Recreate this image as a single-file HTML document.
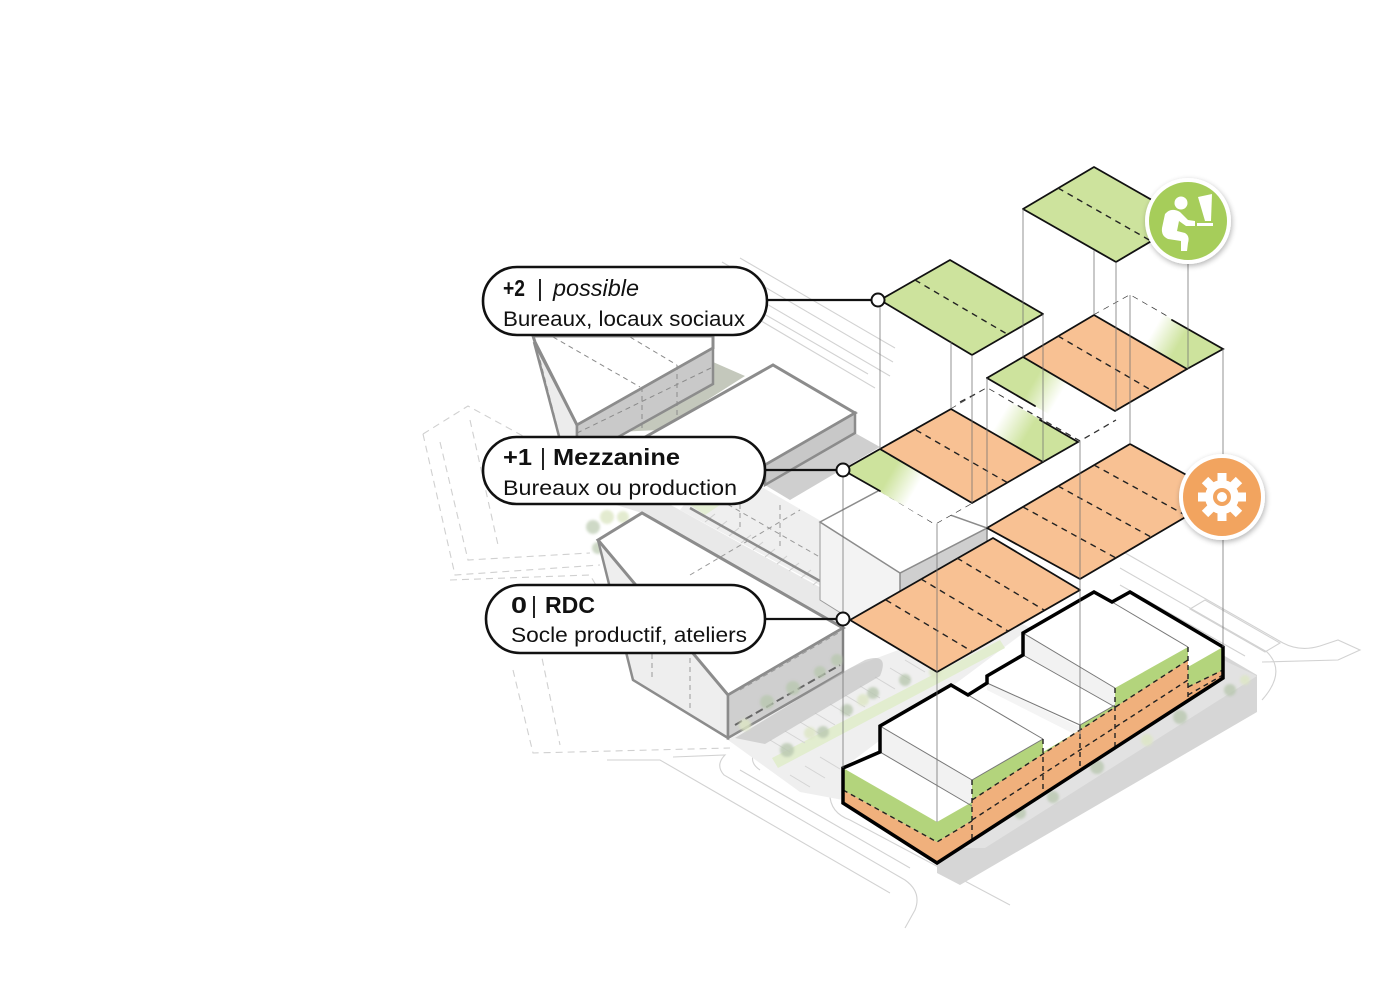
<!DOCTYPE html>
<html><head><meta charset="utf-8">
<style>
html,body{margin:0;padding:0;background:#fff;}
svg{display:block;}
text{font-family:"Liberation Sans",Arial,sans-serif;fill:#111;}
</style></head>
<body>
<svg width="1400" height="987" viewBox="0 0 1400 987" xmlns="http://www.w3.org/2000/svg">
<defs>
<linearGradient id="g1" gradientUnits="userSpaceOnUse" x1="862" y1="460" x2="953" y2="513"><stop offset="0" stop-color="#cde39d" stop-opacity="1"/><stop offset="0.3" stop-color="#cde39d" stop-opacity="1"/><stop offset="0.58" stop-color="#cde39d" stop-opacity="0"/></linearGradient>
<linearGradient id="g2" gradientUnits="userSpaceOnUse" x1="1060" y1="452" x2="969" y2="398"><stop offset="0" stop-color="#cde39d" stop-opacity="1"/><stop offset="0.35" stop-color="#cde39d" stop-opacity="1"/><stop offset="0.65" stop-color="#cde39d" stop-opacity="0"/></linearGradient>
<linearGradient id="g3" gradientUnits="userSpaceOnUse" x1="1005" y1="367" x2="1097" y2="421"><stop offset="0" stop-color="#cde39d" stop-opacity="1"/><stop offset="0.3" stop-color="#cde39d" stop-opacity="1"/><stop offset="0.58" stop-color="#cde39d" stop-opacity="0"/></linearGradient>
<linearGradient id="g4" gradientUnits="userSpaceOnUse" x1="1205" y1="359" x2="1112" y2="305"><stop offset="0" stop-color="#cde39d" stop-opacity="1"/><stop offset="0.28" stop-color="#cde39d" stop-opacity="1"/><stop offset="0.55" stop-color="#cde39d" stop-opacity="0"/></linearGradient>
<filter id="sh" x="-30%" y="-30%" width="160%" height="160%"><feGaussianBlur in="SourceAlpha" stdDeviation="3"/><feOffset dx="1" dy="2"/><feComponentTransfer><feFuncA type="linear" slope="0.3"/></feComponentTransfer><feMerge><feMergeNode/><feMergeNode in="SourceGraphic"/></feMerge></filter>
<filter id="bl" x="-20%" y="-20%" width="140%" height="140%"><feGaussianBlur stdDeviation="1.2"/></filter>
</defs>

<!-- ground lines -->
<g fill="none" stroke="#d2d2d2" stroke-width="1.1">
<path d="M705 268 L890 376"/><path d="M722 262 L893 362"/><path d="M740 258 L895 348"/><path d="M712 292 L875 388"/><path d="M740 300 L868 374"/>
<path d="M1120 550 L1283 643 Q1300 652 1320 646 L1338 640 L1360 650 L1338 660 L1262 662"/>
<path d="M1120 568 L1267 652 Q1287 672 1262 700"/>
<path d="M1120 585 L1245 656"/>
<path d="M1205 600 L1280 643 L1265 652 L1190 609 Z"/>
<path d="M607 760 L660 760 L890 893"/>
<path d="M673 757 L725 755 Q715 765 724 775 L905 880 Q922 892 915 910 L905 928"/>
<path d="M740 770 L910 868"/>
<path d="M760 745 Q745 760 760 770"/>
<path d="M830 790 Q828 812 850 820 L1010 905"/>
<path d="M880 770 L960 816"/>
</g>
<g fill="none" stroke="#d0d0d0" stroke-width="1.1" stroke-dasharray="7 5">
<path d="M423 434 L468 406 L545 448"/>
<path d="M423 434 L455 575 L600 565"/>
<path d="M440 442 L468 560 L590 553"/>
<path d="M470 420 L498 545"/>
<path d="M450 580 L590 575 L640 660"/>
<path d="M513 670 L533 753 L730 748"/>
<path d="M530 600 L560 745"/>
</g>

<!-- site ground -->
<polygon points="728,740 850,668 1000,612 1030,628 843,768 843,800 800,792" fill="#efefef"/>
<polygon points="772,758 1000,640 1005,648 778,768" fill="#e2edcf"/>
<g stroke="#d4d4d4" stroke-width="1">
<path d="M770 740 L790 752"/><path d="M785 731 L805 743"/><path d="M800 722 L820 734"/><path d="M815 713 L835 725"/><path d="M830 704 L850 716"/><path d="M845 695 L865 707"/><path d="M860 686 L880 698"/><path d="M875 677 L895 689"/><path d="M890 668 L910 680"/><path d="M905 660 L925 672"/><path d="M920 652 L940 664"/>
<path d="M790 775 L810 787"/><path d="M805 766 L825 778"/><path d="M820 757 L840 769"/>
</g>
<polygon points="1223,655 1257,675 1257,712 960,885 937,873 937,863 1223,678" fill="#d6d6d6"/>
<polygon points="1223,660 1257,676 985,848 950,848" fill="#e2e2e2"/>

<!-- L1 -->
<polygon points="713,362 745,376 660,430 615,432" fill="#c4c8bc"/>
<polygon points="534,342 577,425 577,440 560,440" fill="#ececec" stroke="#8c8c8c" stroke-width="2.5"/>
<polygon points="533,336 713,336 713,348 577,425 535,342" fill="#fff" stroke="#8c8c8c" stroke-width="3"/>
<polygon points="577,425 713,348 713,384 577,460" fill="#c9c9c9" stroke="#8c8c8c" stroke-width="2.5"/>
<g stroke="#8a8a8a" stroke-width="1" stroke-dasharray="5 4" fill="none">
<path d="M553 337 L640 387"/><path d="M630 337 L677 365"/>
<path d="M577 433 L713 367"/><path d="M642 387 V432"/><path d="M677 365 V417"/>
<path d="M540 360 L558 430"/>
</g>

<!-- L2 + strip -->
<polygon points="600,500 640,488 843,600 843,640 642,513" fill="#e9e9e9"/>
<polygon points="690,497 760,486 880,555 880,600 843,598 680,510" fill="#efefef"/>
<g stroke="#9a9a9a" stroke-width="1" stroke-dasharray="5 4" fill="none"><path d="M720 500 L860 580"/><path d="M740 495 L740 530"/><path d="M780 505 L780 550"/><path d="M820 530 L820 575"/></g>
<polygon points="678,497 700,490 720,505 705,515" fill="#e4eed4"/>
<g stroke="#cfcfcf" stroke-width="1">
<path d="M705 522 L715 514"/><path d="M717 529 L727 521"/><path d="M729 536 L739 528"/><path d="M741 543 L751 535"/><path d="M753 550 L763 542"/><path d="M765 557 L775 549"/><path d="M777 564 L787 556"/><path d="M789 571 L799 563"/><path d="M801 578 L811 570"/><path d="M813 585 L823 577"/><path d="M825 592 L835 584"/>
</g>
<path d="M642 513 L843 628" stroke="#8c8c8c" stroke-width="3" fill="none"/>
<path d="M690 508 L843 594" stroke="#8c8c8c" stroke-width="2.5" fill="none"/>
<polygon points="855,433 880,447 790,500 765,485" fill="#cfcfcf"/>
<polygon points="640,440 773,365 855,413 765,465 700,500" fill="#fff" stroke="#8c8c8c" stroke-width="3"/>
<polygon points="855,413 855,433 765,485 765,465" fill="#c8c8c8" stroke="#8c8c8c" stroke-width="2.5"/>

<!-- trees left -->
<g fill="#c6d3bd" opacity="0.85" filter="url(#bl)">
<circle cx="593" cy="527" r="7"/><circle cx="607" cy="517" r="7" fill="#dfe8c8"/><circle cx="623" cy="517" r="6" fill="#dfe8c8"/><circle cx="598" cy="548" r="6"/>
</g>

<!-- L3 -->
<polygon points="598,540 728,695 728,738 633,680 600,548" fill="#eeeeee" stroke="#8c8c8c" stroke-width="2.5"/>
<polygon points="598,540 642,513 843,628 728,695" fill="#fff" stroke="#8c8c8c" stroke-width="3"/>
<polygon points="728,695 843,628 843,672 728,738" fill="#cfcfcf" stroke="#8c8c8c" stroke-width="2.5"/>
<path d="M735 738 L843 672 L865 660 Q890 652 880 676 L765 744 Z" fill="#bdbdbd" opacity="0.6"/>
<g stroke="#9a9a9a" stroke-width="1" stroke-dasharray="5 4" fill="none"><path d="M635 590 L720 640"/><path d="M652 600 L652 680"/><path d="M690 622 L690 710"/><path d="M740 690 L840 632"/><path d="M690 575 L800 510"/></g>
<path d="M735 725 L840 665" stroke="#666" stroke-width="2" stroke-dasharray="8 4"/>
<g fill="#b9c8b0" opacity="0.8" filter="url(#bl)">
<circle cx="745" cy="725" r="6" fill="#dde6c4"/><circle cx="767" cy="702" r="7"/><circle cx="793" cy="688" r="7"/><circle cx="820" cy="672" r="6"/><circle cx="837" cy="660" r="6"/>
<circle cx="787" cy="750" r="7"/><circle cx="810" cy="733" r="6" fill="#dde6c4"/><circle cx="823" cy="732" r="6"/><circle cx="847" cy="710" r="6"/><circle cx="863" cy="700" r="6" fill="#dde6c4"/><circle cx="873" cy="693" r="6"/><circle cx="905" cy="680" r="6"/><circle cx="935" cy="672" r="6" fill="#dde6c4"/>
<circle cx="1180" cy="717" r="7"/><circle cx="1147" cy="740" r="6" fill="#dde6c4"/><circle cx="1097" cy="767" r="7"/><circle cx="1053" cy="797" r="6"/><circle cx="1020" cy="813" r="6"/><circle cx="1230" cy="690" r="6"/><circle cx="1245" cy="680" r="5" fill="#dde6c4"/>
</g>

<!-- M box -->
<polygon points="820,522 900,573 900,650 820,600" fill="#f3f3f3" stroke="#9a9a9a" stroke-width="1"/>
<polygon points="900,573 987,528 987,545 900,592" fill="#cfcfcf" stroke="#8c8c8c" stroke-width="1.5"/>
<polygon points="820,522 880,490 987,528 900,573" fill="#fff" stroke="#8c8c8c" stroke-width="1.5"/>

<!-- bold building -->
<polygon points="843,768 880,752 880,726 951,685 968,695 987,683 987,676 1023,655 1023,633 1094,592 1112,602 1130,592 1223,647 1223,678 937,863 843,803" fill="#fff"/>
<polygon points="880,726 972,780 972,806 880,752" fill="#f2f2f2"/>
<polygon points="1023,633 1115,688 1115,707 1023,655" fill="#f2f2f2"/>
<polygon points="987,683 1080,727 1080,737 987,690" fill="#f4f4f4"/>
<polygon points="843,768 937,822 937,842 843,790" fill="#b3d47c"/>
<polygon points="843,790 937,842 937,863 843,803" fill="#f0b07c"/>
<polygon points="937,822 972,802 972,820 937,842" fill="#b3d47c"/>
<polygon points="937,842 972,820 972,841 937,863" fill="#f0b07c"/>
<polygon points="972,780 1043,739 1043,752 1080,730 1080,725 1115,705 1115,688 1188,647 1188,667 1223,647 1223,678 972,841" fill="#b3d47c"/>
<polygon points="972,800 1188,660 1188,687 1223,670 1223,678 972,841" fill="#f0b07c"/>
<g stroke="#777" stroke-width="1" fill="none">
<path d="M880 726 L972 780"/><path d="M951 685 L1043 739"/><path d="M987 683 L1080 725"/><path d="M1023 633 L1115 688"/><path d="M1023 655 L1115 707"/><path d="M1112 602 L1188 647"/><path d="M880 752 L972 806"/><path d="M972 780 L1043 739"/><path d="M1080 725 L1115 705"/>
</g>
<g stroke="#222" stroke-width="1.4" stroke-dasharray="5 4" fill="none">
<path d="M843 790 L937 842 L972 821"/><path d="M972 820 L1188 680"/><path d="M972 800 L1188 660"/><path d="M1188 687 L1223 670"/><path d="M1188 695 L1223 675"/>
<path d="M972 780 L972 841"/><path d="M1043 739 L1043 795"/><path d="M1080 725 L1080 771"/><path d="M1115 688 L1115 748"/><path d="M1188 647 L1188 701"/>
</g>
<polygon points="843,768 880,752 880,726 951,685 968,695 987,683 987,676 1023,655 1023,633 1094,592 1112,602 1130,592 1223,647 1223,678 937,863 843,803" fill="none" stroke="#000" stroke-width="3.5" stroke-linejoin="miter"/>

<!-- dashed volume lines -->
<g stroke="#333" stroke-width="1.3" stroke-dasharray="6 5" fill="none">
<path d="M880 491 L935 524 L972 503"/>
<path d="M951 409 L987 388 L1080 441 L1116 420"/>
<path d="M960 402 L987 388"/>
<path d="M1094 315 L1130 295 L1170 318"/>
</g>

<!-- level 0 plates -->
<g stroke="#111" stroke-width="1.8" stroke-linejoin="round">
<polygon points="850,620 993,538 1080,590 937,672" fill="#f8c193"/>
<polygon points="987,528 1130,444 1223,495 1080,579" fill="#f8c193"/>
</g>
<g stroke="#222" stroke-width="1.4" stroke-dasharray="6 5" fill="none">
<path d="M886 600 L973 652"/><path d="M921 579 L1008 631"/><path d="M957 558 L1044 610"/>
<path d="M1023 507 L1116 558"/><path d="M1058 486 L1151 537"/><path d="M1094 465 L1187 516"/>
</g>

<!-- level 1 plates -->
<polygon points="843,470 880,449 972,503 935,524" fill="#fff"/>
<polygon points="843,470 880,449 972,503 935,524" fill="url(#g1)"/>
<polygon points="1043,462 1078,442 987,388 951,409" fill="#fff"/>
<polygon points="1043,462 1078,442 987,388 951,409" fill="url(#g2)"/>
<polygon points="880,449 951,409 1043,462 972,503" fill="#f8c193" stroke="#111" stroke-width="1.8" stroke-linejoin="round"/>
<polygon points="987,378 1023,357 1115,411 1079,432" fill="#fff"/>
<polygon points="987,378 1023,357 1115,411 1079,432" fill="url(#g3)"/>
<polygon points="1187,369 1223,349 1130,295 1094,315" fill="#fff"/>
<polygon points="1187,369 1223,349 1130,295 1094,315" fill="url(#g4)"/>
<polygon points="1023,357 1094,315 1187,369 1115,411" fill="#f8c193" stroke="#111" stroke-width="1.8" stroke-linejoin="round"/>
<g stroke="#111" stroke-width="1.8" fill="none" stroke-linecap="round">
<path d="M843 470 L880 449"/><path d="M843 470 L880 491"/><path d="M1043 462 L1078 442 L1040 420"/>
<path d="M987 378 L1023 357"/><path d="M987 378 L1035 406"/><path d="M1187 369 L1223 349 L1172 320"/>
</g>
<g stroke="#222" stroke-width="1.4" stroke-dasharray="6 5" fill="none">
<path d="M916 430 L1008 483"/><path d="M1058 336 L1151 390"/>
</g>

<!-- level 2 plates -->
<g stroke="#111" stroke-width="1.8" stroke-linejoin="round">
<polygon points="950,260 1043,314 972,355 880,300" fill="#cde39d"/>
<polygon points="1094,167 1187,220 1116,262 1023,209" fill="#cde39d"/>
</g>
<g stroke="#222" stroke-width="1.4" stroke-dasharray="6 5" fill="none">
<path d="M915 280 L1007 334"/><path d="M1058 188 L1151 241"/>
</g>

<!-- vertical lines -->
<g stroke="#6f6f6f" stroke-width="1" opacity="0.75">
<path d="M843 476 V613"/><path d="M843 626 V768"/>
<path d="M880 306 V449"/>
<path d="M937 524 V822"/>
<path d="M951 342 V409"/>
<path d="M972 355 V503"/>
<path d="M987 378 V528"/>
<path d="M1023 209 V357"/>
<path d="M1043 314 V462"/>
<path d="M1080 442 V737"/>
<path d="M1094 250 V315"/>
<path d="M1116 262 V411"/>
<path d="M1130 295 V444"/>
<path d="M1188 262 V369"/>
<path d="M1223 349 V647"/>
</g>

<!-- icons -->
<g filter="url(#sh)">
<circle cx="1188" cy="221" r="41" fill="#a6cd5a" stroke="#fff" stroke-width="4"/>
</g>
<g fill="#fff">
<circle cx="1181" cy="203" r="6.5"/>
<path d="M1165 214 Q1171 207 1180 212 L1188 220 L1195 221 L1195 226 L1186 226 L1179 221 L1177 231 L1185 233 Q1190 236 1188 243 L1187 251 L1181 251 L1181 241 L1168 239 Q1161 236 1162 228 Z"/>
<polygon points="1198,197 1212,194 1211,221 1205,221"/>
<rect x="1197" y="223" width="16" height="3"/>
</g>
<g filter="url(#sh)">
<circle cx="1222" cy="497" r="41" fill="#f2a45f" stroke="#fff" stroke-width="4"/>
</g>
<g fill="#fff" transform="translate(1222,497)">
<circle r="17"/>
<rect x="-4.5" y="-24" width="9" height="10"/>
<rect x="-4.5" y="-24" width="9" height="10" transform="rotate(45)"/>
<rect x="-4.5" y="-24" width="9" height="10" transform="rotate(90)"/>
<rect x="-4.5" y="-24" width="9" height="10" transform="rotate(135)"/>
<rect x="-4.5" y="-24" width="9" height="10" transform="rotate(180)"/>
<rect x="-4.5" y="-24" width="9" height="10" transform="rotate(225)"/>
<rect x="-4.5" y="-24" width="9" height="10" transform="rotate(270)"/>
<rect x="-4.5" y="-24" width="9" height="10" transform="rotate(315)"/>
<circle r="9" fill="#f2a45f"/>
<circle r="5" fill="#fff"/>
</g>

<!-- connectors -->
<g stroke="#111" stroke-width="2.2" fill="none">
<path d="M765 300 H872"/><path d="M763 470 H837"/><path d="M763 619 H837"/>
</g>
<g fill="#fff" stroke="#111" stroke-width="2">
<circle cx="878" cy="300" r="6.5"/><circle cx="843" cy="470" r="6.5"/><circle cx="843" cy="619" r="6.5"/>
</g>

<!-- labels -->
<g fill="#fff" stroke="#111" stroke-width="2.6">
<rect x="483" y="267" width="284" height="68" rx="34"/>
<rect x="483" y="437" width="282" height="67" rx="33.5"/>
<rect x="486" y="585" width="279" height="68" rx="34"/>
</g>
<text x="503" y="296" font-size="23" font-weight="bold" textLength="22" lengthAdjust="spacingAndGlyphs">+2</text>
<text x="537" y="296" font-size="23">|</text>
<text x="553" y="296" font-size="23" font-style="italic" textLength="86" lengthAdjust="spacingAndGlyphs">possible</text>
<text x="503" y="326" font-size="21" textLength="242" lengthAdjust="spacingAndGlyphs">Bureaux, locaux sociaux</text>

<text x="503" y="465" font-size="23" font-weight="bold" textLength="29" lengthAdjust="spacingAndGlyphs">+1</text>
<text x="540" y="465" font-size="23">|</text>
<text x="553" y="465" font-size="23" font-weight="bold" textLength="127" lengthAdjust="spacingAndGlyphs">Mezzanine</text>
<text x="503" y="495" font-size="21" textLength="234" lengthAdjust="spacingAndGlyphs">Bureaux ou production</text>

<text x="511" y="613" font-size="23" font-weight="bold" textLength="16" lengthAdjust="spacingAndGlyphs">0</text>
<text x="531" y="613" font-size="23">|</text>
<text x="545" y="613" font-size="23" font-weight="bold" textLength="50" lengthAdjust="spacingAndGlyphs">RDC</text>
<text x="511" y="642" font-size="21" textLength="236" lengthAdjust="spacingAndGlyphs">Socle productif, ateliers</text>
</svg>
</body></html>
